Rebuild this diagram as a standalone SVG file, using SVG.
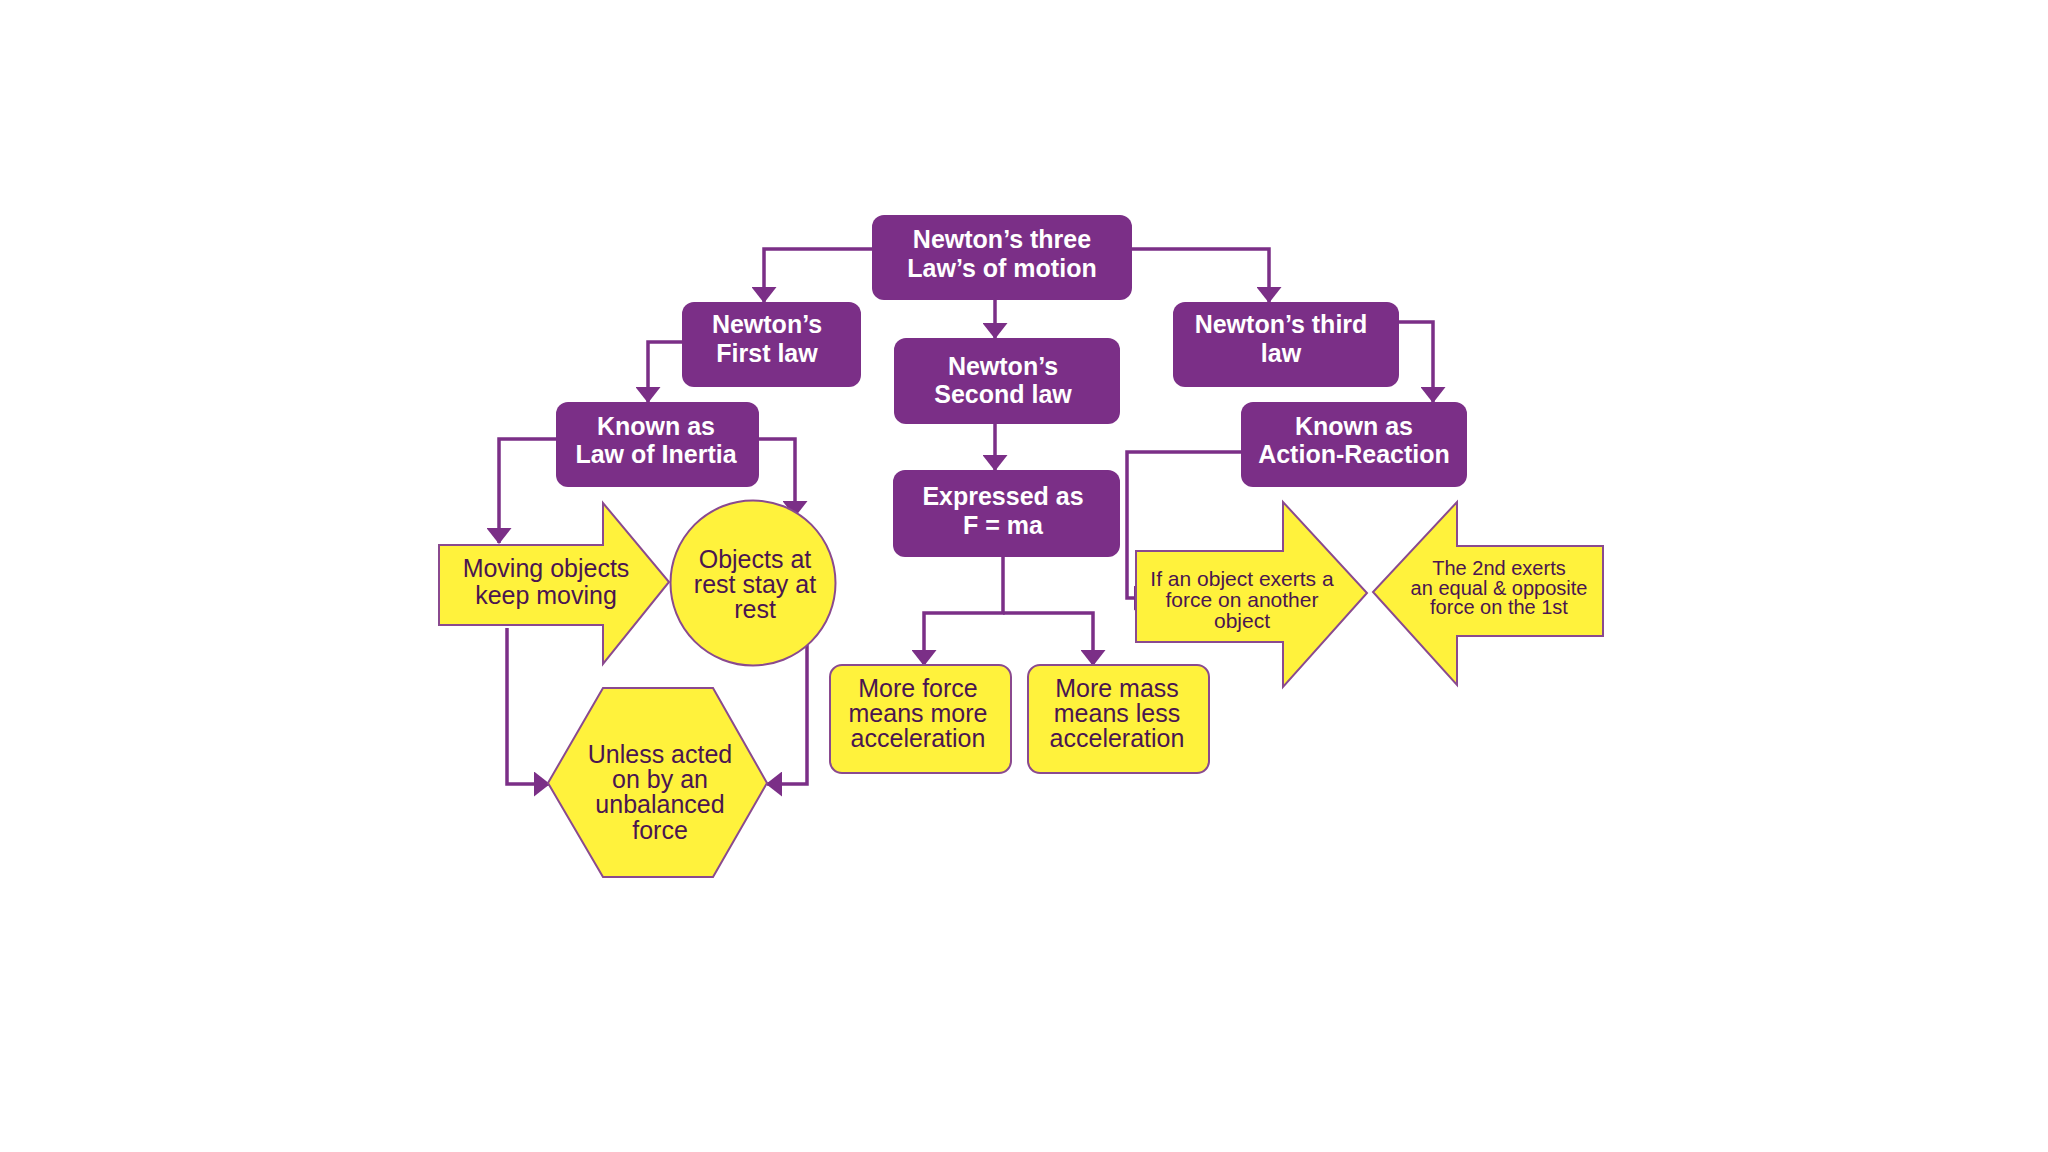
<svg xmlns="http://www.w3.org/2000/svg" width="2048" height="1152" viewBox="0 0 2048 1152">
<style>
.pbox{fill:#7B2F87;}
.ptxt{font-family:"Liberation Sans",Arial,sans-serif;font-weight:bold;font-size:25px;fill:#FFFFFF;text-anchor:middle;}
.yshape{fill:#FFF23C;stroke:#8A4A8F;stroke-width:2;}
.ytxt{font-family:"Liberation Sans",Arial,sans-serif;font-size:25px;fill:#4A1550;text-anchor:middle;}
.ysm{font-size:21px;}
.ysm2{font-size:20px;}
.conn{fill:none;stroke:#7B2F87;stroke-width:3.5;}
</style>
<defs>
<marker id="ah" viewBox="0 0 16 25" refX="15" refY="12.5" markerWidth="16" markerHeight="25" markerUnits="userSpaceOnUse" orient="auto">
<path d="M0,0 L16,12.5 L0,25 Z" fill="#7B2F87"/>
</marker>
</defs>
<rect width="2048" height="1152" fill="#FFFFFF"/>

<g id="connectors">
<path class="conn" d="M872,249 H764 V302" marker-end="url(#ah)"/>
<path class="conn" d="M1132,249 H1269 V302" marker-end="url(#ah)"/>
<path class="conn" d="M995,300 V338" marker-end="url(#ah)"/>
<path class="conn" d="M682,342 H648 V402" marker-end="url(#ah)"/>
<path class="conn" d="M1399,322 H1433 V402" marker-end="url(#ah)"/>
<path class="conn" d="M995,424 V470" marker-end="url(#ah)"/>
<path class="conn" d="M1003,557 V613 H924 V665" marker-end="url(#ah)"/>
<path class="conn" d="M1003,613 H1093 V665" marker-end="url(#ah)"/>
<path class="conn" d="M556,439 H499 V543" marker-end="url(#ah)"/>
<path class="conn" d="M759,439 H795 V516" marker-end="url(#ah)"/>
<path class="conn" d="M507,628 V784 H549" marker-end="url(#ah)"/>
<path class="conn" d="M807,645 V784 H767" marker-end="url(#ah)"/>
<path class="conn" d="M1241,452 H1127 V598 H1149" marker-end="url(#ah)"/>
</g>

<g id="n-three-laws">
<rect class="pbox" x="872" y="215" width="260" height="85" rx="12"/>
<text class="ptxt" x="1002" y="248">Newton’s three</text>
<text class="ptxt" x="1002" y="277">Law’s of motion</text>
</g>

<g id="n-first-law">
<rect class="pbox" x="682" y="302" width="179" height="85" rx="12"/>
<text class="ptxt" x="767" y="333">Newton’s</text>
<text class="ptxt" x="767" y="362">First law</text>
</g>

<g id="n-second-law">
<rect class="pbox" x="894" y="338" width="226" height="86" rx="12"/>
<text class="ptxt" x="1003" y="375">Newton’s</text>
<text class="ptxt" x="1003" y="403">Second law</text>
</g>

<g id="n-third-law">
<rect class="pbox" x="1173" y="302" width="226" height="85" rx="12"/>
<text class="ptxt" x="1281" y="333">Newton’s third</text>
<text class="ptxt" x="1281" y="362">law</text>
</g>

<g id="n-inertia">
<rect class="pbox" x="556" y="402" width="203" height="85" rx="12"/>
<text class="ptxt" x="656" y="435">Known as</text>
<text class="ptxt" x="656" y="463">Law of Inertia</text>
</g>

<g id="n-action-reaction">
<rect class="pbox" x="1241" y="402" width="226" height="85" rx="12"/>
<text class="ptxt" x="1354" y="435">Known as</text>
<text class="ptxt" x="1354" y="463">Action-Reaction</text>
</g>

<g id="n-expressed">
<rect class="pbox" x="893" y="470" width="227" height="87" rx="12"/>
<text class="ptxt" x="1003" y="505">Expressed as</text>
<text class="ptxt" x="1003" y="534">F = ma</text>
</g>

<g id="n-moving">
<path class="yshape" d="M439,545 H603 V503 L669,582 L603,664 V625 H439 Z"/>
<text class="ytxt" x="546" y="577">Moving objects</text>
<text class="ytxt" x="546" y="604">keep moving</text>
</g>

<g id="n-rest">
<circle class="yshape" cx="753" cy="583" r="82.5"/>
<text class="ytxt" x="755" y="568">Objects at</text>
<text class="ytxt" x="755" y="593">rest stay at</text>
<text class="ytxt" x="755" y="618">rest</text>
</g>

<g id="n-unless">
<path class="yshape" d="M548,783 L603,688 H713 L767,783 L713,877 H603 Z"/>
<text class="ytxt" x="660" y="763">Unless acted</text>
<text class="ytxt" x="660" y="788">on by an</text>
<text class="ytxt" x="660" y="813">unbalanced</text>
<text class="ytxt" x="660" y="839">force</text>
</g>

<g id="n-more-force">
<rect class="yshape" x="830" y="665" width="181" height="108" rx="12"/>
<text class="ytxt" x="918" y="697">More force</text>
<text class="ytxt" x="918" y="722">means more</text>
<text class="ytxt" x="918" y="747">acceleration</text>
</g>

<g id="n-more-mass">
<rect class="yshape" x="1028" y="665" width="181" height="108" rx="12"/>
<text class="ytxt" x="1117" y="697">More mass</text>
<text class="ytxt" x="1117" y="722">means less</text>
<text class="ytxt" x="1117" y="747">acceleration</text>
</g>

<g id="n-if-object">
<path class="yshape" d="M1136,551 H1283 V502 L1367,593 L1283,687 V642 H1136 Z"/>
<text class="ytxt ysm" x="1242" y="586">If an object exerts a</text>
<text class="ytxt ysm" x="1242" y="607">force on another</text>
<text class="ytxt ysm" x="1242" y="628">object</text>
</g>

<g id="n-second-exerts">
<path class="yshape" d="M1603,546 H1457 V502 L1373,592 L1457,685 V636 H1603 Z"/>
<text class="ytxt ysm2" x="1499" y="575">The 2nd exerts</text>
<text class="ytxt ysm2" x="1499" y="595">an equal &amp; opposite</text>
<text class="ytxt ysm2" x="1499" y="614">force on the 1st</text>
</g>
</svg>
